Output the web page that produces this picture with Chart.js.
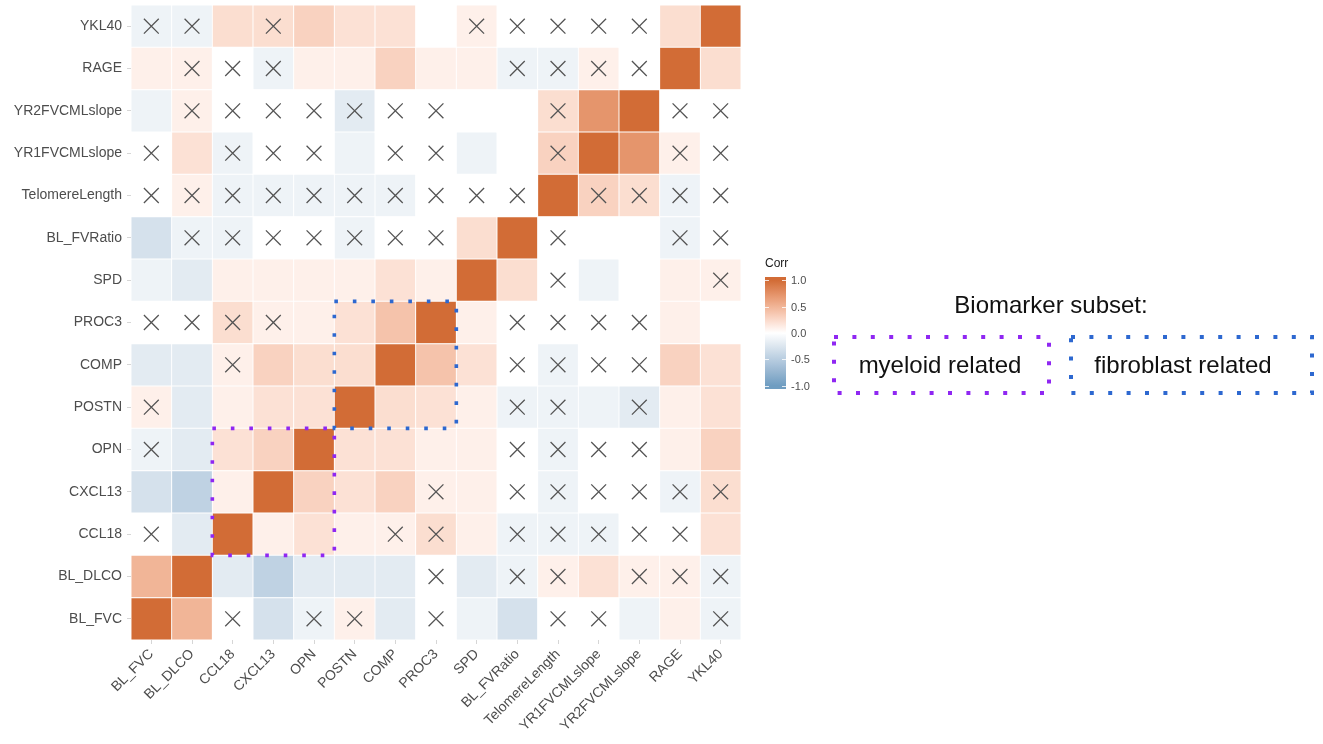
<!DOCTYPE html>
<html>
<head>
<meta charset="utf-8">
<script src="https://cdn.jsdelivr.net/npm/chart.js@4.4.1/dist/chart.umd.min.js"></script>
<style>
  html, body { margin: 0; padding: 0; background: #fff; overflow: hidden; }
</style>
</head>
<body>
<canvas id="corrChart" width="1323" height="744"></canvas>
<script>
// variables, bottom-to-top on y and left-to-right on x
const variables = ['BL_FVC', 'BL_DLCO', 'CCL18', 'CXCL13', 'OPN', 'POSTN', 'COMP', 'PROC3',
  'SPD', 'BL_FVRatio', 'TelomereLength', 'YR1FVCMLslope', 'YR2FVCMLslope', 'RAGE', 'YKL40'];

// correlation matrix, one row per variable (same order as columns)
const corr = [
  [ 1.00,  0.50,  0.00, -0.30, -0.12,  0.10, -0.20,  0.00, -0.12, -0.30,  0.00,  0.00, -0.12,  0.10, -0.12], // BL_FVC
  [ 0.50,  1.00, -0.20, -0.45, -0.20, -0.20, -0.20,  0.00, -0.20, -0.12,  0.10,  0.20,  0.10,  0.10, -0.12], // BL_DLCO
  [ 0.00, -0.20,  1.00,  0.10,  0.20,  0.10,  0.10,  0.22,  0.10, -0.12, -0.12, -0.12,  0.00,  0.00,  0.20], // CCL18
  [-0.30, -0.45,  0.10,  1.00,  0.30,  0.20,  0.30,  0.10,  0.10,  0.00, -0.12,  0.00,  0.00, -0.12,  0.22], // CXCL13
  [-0.12, -0.20,  0.20,  0.30,  1.00,  0.20,  0.20,  0.10,  0.10,  0.00, -0.12,  0.00,  0.00,  0.10,  0.30], // OPN
  [ 0.10, -0.20,  0.10,  0.20,  0.20,  1.00,  0.22,  0.20,  0.10, -0.12, -0.12, -0.12, -0.20,  0.10,  0.20], // POSTN
  [-0.20, -0.20,  0.10,  0.30,  0.22,  0.22,  1.00,  0.40,  0.20,  0.00, -0.12,  0.00,  0.00,  0.30,  0.20], // COMP
  [ 0.00,  0.00,  0.22,  0.10,  0.10,  0.20,  0.40,  1.00,  0.10,  0.00,  0.00,  0.00,  0.00,  0.10,  0.00], // PROC3
  [-0.12, -0.20,  0.10,  0.10,  0.10,  0.10,  0.20,  0.10,  1.00,  0.22,  0.00, -0.12,  0.00,  0.10,  0.10], // SPD
  [-0.30, -0.12, -0.12,  0.00,  0.00, -0.12,  0.00,  0.00,  0.22,  1.00,  0.00,  0.00,  0.00, -0.12,  0.00], // BL_FVRatio
  [ 0.00,  0.10, -0.12, -0.12, -0.12, -0.12, -0.12,  0.00,  0.00,  0.00,  1.00,  0.30,  0.22, -0.12,  0.00], // TelomereLength
  [ 0.00,  0.20, -0.12,  0.00,  0.00, -0.12,  0.00,  0.00, -0.12,  0.00,  0.30,  1.00,  0.72,  0.10,  0.00], // YR1FVCMLslope
  [-0.12,  0.10,  0.00,  0.00,  0.00, -0.20,  0.00,  0.00,  0.00,  0.00,  0.22,  0.72,  1.00,  0.00,  0.00], // YR2FVCMLslope
  [ 0.10,  0.10,  0.00, -0.12,  0.10,  0.10,  0.30,  0.10,  0.10, -0.12, -0.12,  0.10,  0.00,  1.00,  0.22], // RAGE
  [-0.12, -0.12,  0.22,  0.22,  0.30,  0.20,  0.20,  0.00,  0.10,  0.00,  0.00,  0.00,  0.00,  0.22,  1.00]  // YKL40
];

// 1 = not significant (drawn with a cross)
const insig = [
  [0,0,1,0,1,1,0,1,0,0,1,1,0,0,1],
  [0,0,0,0,0,0,0,1,0,1,1,0,1,1,1],
  [1,0,0,0,0,0,1,1,0,1,1,1,1,1,0],
  [0,0,0,0,0,0,0,1,0,1,1,1,1,1,1],
  [1,0,0,0,0,0,0,0,0,1,1,1,1,0,0],
  [1,0,0,0,0,0,0,0,0,1,1,0,1,0,0],
  [0,0,1,0,0,0,0,0,0,1,1,1,1,0,0],
  [1,1,1,1,0,0,0,0,0,1,1,1,1,0,0],
  [0,0,0,0,0,0,0,0,0,0,1,0,0,0,1],
  [0,1,1,1,1,1,1,1,0,0,1,0,0,1,1],
  [1,1,1,1,1,1,1,1,1,1,0,1,1,1,1],
  [1,0,1,1,1,0,1,1,0,0,1,0,0,1,1],
  [0,1,1,1,1,1,1,1,0,0,1,0,0,1,1],
  [0,1,1,1,0,0,0,0,0,1,1,1,1,0,0],
  [1,1,0,1,0,0,0,0,1,1,1,1,1,0,0]
];

const legendTicks = [1.0, 0.5, 0.0, -0.5, -1.0];
const myeloidGroup = ['CCL18', 'CXCL13', 'OPN'];
const fibroblastGroup = ['POSTN', 'COMP', 'PROC3'];

const FONT = '"Liberation Sans", Arial, Helvetica, sans-serif';

// ---- colour scale (white midpoint, interpolated in Lab like ggplot) ----
function hexToRgb(h) { return [1, 3, 5].map(i => parseInt(h.slice(i, i + 2), 16)); }
function rgbToLab([r, g, b]) {
  const lin = c => { c /= 255; return c <= 0.04045 ? c / 12.92 : Math.pow((c + 0.055) / 1.055, 2.4); };
  const R = lin(r), G = lin(g), B = lin(b);
  const X = (R * 0.4124 + G * 0.3576 + B * 0.1805) / 0.95047;
  const Y = R * 0.2126 + G * 0.7152 + B * 0.0722;
  const Z = (R * 0.0193 + G * 0.1192 + B * 0.9505) / 1.08883;
  const f = t => t > 0.008856 ? Math.cbrt(t) : 7.787 * t + 16 / 116;
  return [116 * f(Y) - 16, 500 * (f(X) - f(Y)), 200 * (f(Y) - f(Z))];
}
function labToRgb([L, a, b]) {
  const fy = (L + 16) / 116, fx = fy + a / 500, fz = fy - b / 200;
  const inv = t => t ** 3 > 0.008856 ? t ** 3 : (t - 16 / 116) / 7.787;
  const X = inv(fx) * 0.95047, Y = inv(fy), Z = inv(fz) * 1.08883;
  const R = X * 3.2406 - Y * 1.5372 - Z * 0.4986;
  const G = -X * 0.9689 + Y * 1.8758 + Z * 0.0415;
  const B = X * 0.0557 - Y * 0.2040 + Z * 1.0570;
  const gam = c => {
    c = c <= 0.0031308 ? 12.92 * c : 1.055 * Math.pow(c, 1 / 2.4) - 0.055;
    return Math.round(Math.min(1, Math.max(0, c)) * 255);
  };
  return [gam(R), gam(G), gam(B)];
}
const LAB_LOW = rgbToLab(hexToRgb('#6F9DC1'));
const LAB_MID = rgbToLab([255, 255, 255]);
const LAB_HIGH = rgbToLab(hexToRgb('#D26C36'));
function corrColor(v) {
  const end = v >= 0 ? LAB_HIGH : LAB_LOW;
  const t = Math.min(1, Math.abs(v));
  const [r, g, b] = labToRgb(LAB_MID.map((m, i) => m + (end[i] - m) * t));
  return `rgb(${r},${g},${b})`;
}

// ---- datasets ----
const tileSets = variables.map((rowName, r) => ({
  type: 'bar',
  label: rowName,
  order: 1,
  data: variables.map(() => [r, r + 1]),
  backgroundColor: corr[r].map(corrColor),
  borderColor: 'rgba(255,255,255,0.55)',
  borderWidth: 0.8,
  borderSkipped: false,
  grouped: false,
  barPercentage: 1,
  categoryPercentage: 1
}));

const crossPoints = [];
insig.forEach((row, r) => row.forEach((flag, c) => {
  if (flag) crossPoints.push({ x: variables[c], y: r + 0.5 });
}));

// dotted rectangle helper (square dots)
function dottedRect(ctx, x0, y0, x1, y1, color, size, gap) {
  ctx.save();
  ctx.strokeStyle = color;
  ctx.lineWidth = size;
  ctx.lineCap = 'butt';
  ctx.setLineDash([size, gap]);
  ctx.strokeRect(x0, y0, x1 - x0, y1 - y0);
  ctx.restore();
}

const subsetBoxes = {
  id: 'subsetBoxes',
  afterDatasetsDraw(chart) {
    const { ctx, scales: { x, y } } = chart;
    const cw = x.width / variables.length;
    const box = (group, color) => {
      const idx = group.map(n => variables.indexOf(n));
      const lo = Math.min(...idx), hi = Math.max(...idx);
      dottedRect(ctx,
        x.getPixelForValue(lo) - cw / 2, y.getPixelForValue(hi + 1),
        x.getPixelForValue(hi) + cw / 2, y.getPixelForValue(lo),
        color, 3.6, 14.9);
    };
    box(myeloidGroup, '#8F27F2');
    box(fibroblastGroup, '#2D68D0');
  }
};

const sideDecor = {
  id: 'sideDecor',
  afterDraw(chart) {
    const ctx = chart.ctx;
    ctx.save();
    // colour bar legend
    const bx = 765, bw = 21, top = 277, bottom = 389, mid = 333, half = 52.6;
    ctx.fillStyle = '#1a1a1a';
    ctx.font = `12px ${FONT}`;
    ctx.textAlign = 'left';
    ctx.textBaseline = 'alphabetic';
    ctx.fillText('Corr', bx, 267);
    const grad = ctx.createLinearGradient(0, top, 0, bottom);
    for (let i = 0; i <= 20; i++) {
      const v = 1 - i / 10;
      const yy = mid - v * half;
      grad.addColorStop(Math.min(1, Math.max(0, (yy - top) / (bottom - top))), corrColor(v));
    }
    grad.addColorStop(0, corrColor(1));
    grad.addColorStop(1, corrColor(-1));
    ctx.fillStyle = grad;
    ctx.fillRect(bx, top, bw, bottom - top);
    ctx.strokeStyle = 'rgba(255,255,255,0.8)';
    ctx.lineWidth = 1;
    ctx.font = `11px ${FONT}`;
    ctx.textBaseline = 'middle';
    legendTicks.forEach(t => {
      const yy = Math.round(mid - t * half) + 0.5;
      ctx.beginPath();
      ctx.moveTo(bx, yy); ctx.lineTo(bx + 4, yy);
      ctx.moveTo(bx + bw - 4, yy); ctx.lineTo(bx + bw, yy);
      ctx.stroke();
      ctx.fillStyle = '#4d4d4d';
      ctx.fillText(t.toFixed(1), bx + bw + 5, yy);
    });

    // biomarker subset annotation
    ctx.fillStyle = '#111';
    ctx.font = `24px ${FONT}`;
    ctx.textAlign = 'center';
    ctx.textBaseline = 'alphabetic';
    ctx.fillText('Biomarker subset:', 1051, 313);
    dottedRect(ctx, 834, 337, 1049, 393, '#8F27F2', 4, 14.4);
    dottedRect(ctx, 1071, 337, 1312, 393, '#2D68D0', 4, 14.4);
    ctx.fillStyle = '#111';
    ctx.fillText('myeloid related', 940, 373);
    ctx.fillText('fibroblast related', 1183, 373);
    ctx.restore();
  }
};

new Chart(document.getElementById('corrChart'), {
  type: 'bar',
  data: {
    labels: variables,
    datasets: [
      {
        type: 'line',
        label: 'not significant',
        order: 0,
        data: crossPoints,
        showLine: false,
        pointStyle: 'crossRot',
        pointRadius: 10.5,
        pointBorderColor: '#555555',
        pointBorderWidth: 1.3,
        pointBackgroundColor: 'transparent'
      },
      ...tileSets
    ]
  },
  options: {
    responsive: false,
    animation: false,
    events: [],
    layout: { autoPadding: false, padding: { top: 5, left: 0, right: 582, bottom: 0 } },
    plugins: { legend: { display: false }, tooltip: { enabled: false } },
    scales: {
      x: {
        type: 'category',
        offset: true,
        border: { display: false },
        grid: { drawOnChartArea: false, offset: false, tickLength: 4, color: '#d6d6d6' },
        ticks: {
          color: '#4d4d4d', font: { family: FONT, size: 14 },
          minRotation: 45, maxRotation: 45, autoSkip: false, padding: 2
        },
        afterFit: s => { s.height = 104; s.paddingLeft = 0; s.paddingRight = 0; }
      },
      y: {
        type: 'linear',
        min: 0,
        max: 15,
        border: { display: false },
        grid: { drawOnChartArea: false, tickLength: 4, color: '#d6d6d6' },
        afterBuildTicks: s => { s.ticks = variables.map((_, i) => ({ value: i + 0.5 })); },
        ticks: {
          color: '#4d4d4d', font: { family: FONT, size: 14 }, padding: 5,
          autoSkip: false,
          callback: (v, i) => variables[i]
        },
        afterFit: s => { s.width = 131; s.paddingTop = 0; s.paddingBottom = 0; }
      }
    }
  },
  plugins: [subsetBoxes, sideDecor]
});
</script>
</body>
</html>
